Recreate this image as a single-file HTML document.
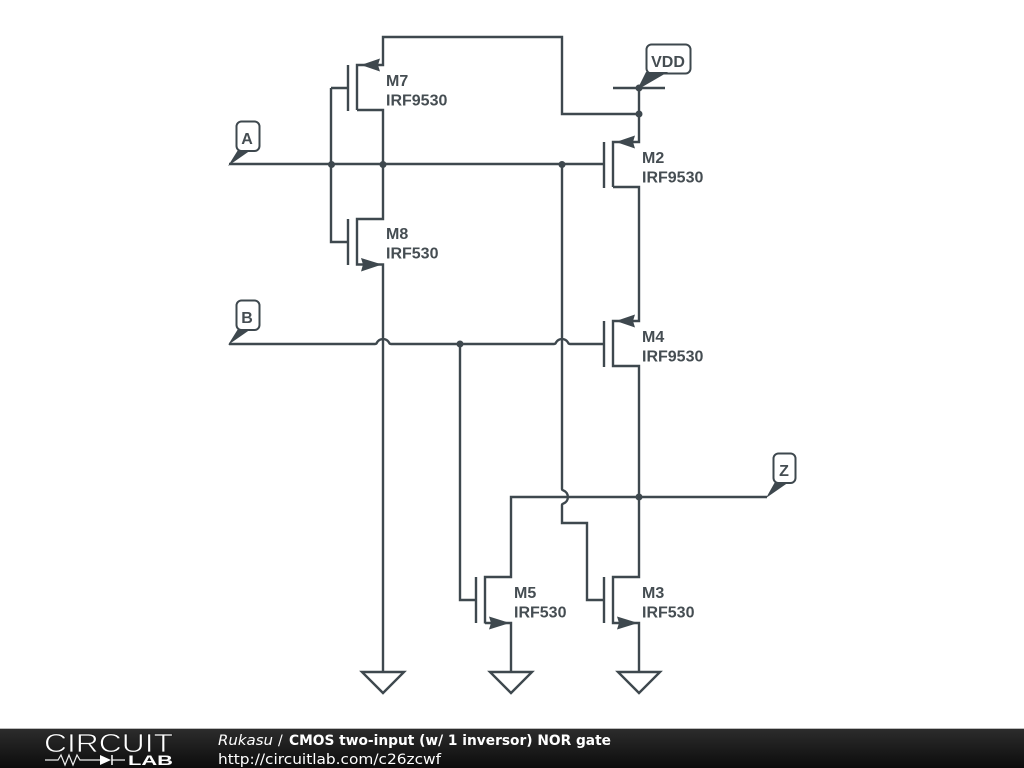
<!DOCTYPE html>
<html><head><meta charset="utf-8"><title>CMOS two-input NOR gate</title>
<style>html,body{margin:0;padding:0;background:#fff}svg{display:block}</style></head>
<body>
<svg xmlns="http://www.w3.org/2000/svg" width="1024" height="768" viewBox="0 0 1024 768">
<defs><linearGradient id="f" x1="0" y1="0" x2="0" y2="1"><stop offset="0" stop-color="#2c2c2c"/><stop offset="1" stop-color="#0c0c0c"/></linearGradient></defs>
<rect width="1024" height="768" fill="#fff"/>
<g fill="none" stroke="#3e484e" stroke-width="2.400">
<!-- M7 -->
<path d="M348 65V111M331 88H348M357 110V65H383V37H562V114H639M357 110H383V219H357V264.500H383V336"/>
<!-- M8 -->
<path d="M348 219V265M331 88V242H348"/>
<!-- A wire -->
<path d="M229 164H604"/>
<!-- B wire -->
<path d="M229 344H375Q376.500 344 377 342.500A7 7 0 0 1 389 342.500Q389.500 344 391 344H554Q555.500 344 556 342.500A7 7 0 0 1 568 342.500Q568.500 344 570 344H604"/>
<path d="M383 336V671"/>
<path d="M562 164V489Q562 490 563.500 490.500A7 7 0 0 1 563.500 503.500Q562 504 562 505V523H587V600H604"/>
<path d="M460 344V600H476M476 577V623M485 623.500V577H511V497H767M485 623H511V671"/>
<!-- M2, M4 -->
<path d="M604 142V188M613 187V142H639V87M613 187H639V321H613V366H639V577H613V623H639V671M604 321V367M604 577V623"/>
<path d="M613 88H665"/>
<!-- grounds -->
<path d="M362 672H404L383 693ZM490 672H532L511 693ZM618 672H660L639 693Z"/>
<!-- labels -->
<rect x="236.500" y="121.500" width="23" height="29.500" rx="5" stroke-width="2"/>
<rect x="236.500" y="300.500" width="23" height="29.500" rx="5" stroke-width="2"/>
<rect x="773.500" y="453.500" width="22" height="29.500" rx="5" stroke-width="2"/>
<rect x="646.500" y="44.500" width="44" height="29" rx="5" stroke-width="2"/>
</g>
<g fill="#3e484e">
<!-- arrowheads -->
<path d="M361 65L380 58.500L378 65L380 71.500ZM616 142L635 135.500L633 142L635 148.500ZM616 321L635 314.500L633 321L635 327.500ZM382 264.500L361 258L363 264.500L361 271.500ZM510 623L489 616.500L491 623L489 629.500ZM638 623L617 616.500L619 623L617 629.500Z"/>
<!-- flag tails -->
<path d="M228 166L238 150H251ZM228 345L238 329H251ZM766 498L775 482H789ZM637 90L646 72H668Z"/>
<!-- junctions -->
<circle cx="331.500" cy="164.500" r="3.500"/><circle cx="383" cy="164.500" r="3.500"/><circle cx="562" cy="164.500" r="3.500"/>
<circle cx="639" cy="88" r="3.500"/><circle cx="639" cy="114" r="3.500"/><circle cx="460" cy="344" r="3.500"/><circle cx="639" cy="497" r="3.500"/>
</g>
<g font-family="'Liberation Sans',sans-serif" font-weight="bold" font-size="16" fill="#454d52">
<text x="386" y="86">M7</text><text x="386" y="105.500">IRF9530</text>
<text x="386" y="239">M8</text><text x="386" y="258.500">IRF530</text>
<text x="642" y="163">M2</text><text x="642" y="182.500">IRF9530</text>
<text x="642" y="342">M4</text><text x="642" y="361.500">IRF9530</text>
<text x="514" y="598">M5</text><text x="514" y="617.500">IRF530</text>
<text x="642" y="598">M3</text><text x="642" y="617.500">IRF530</text>
<text x="247" y="144" text-anchor="middle">A</text>
<text x="247" y="323" text-anchor="middle">B</text>
<text x="784" y="476" text-anchor="middle">Z</text>
<text x="668" y="67" text-anchor="middle">VDD</text>
</g>
<!-- footer -->
<rect y="729" width="1024" height="39" fill="url(#f)"/>
<rect y="728" width="1024" height="1" fill="#bbb"/>
<g font-family="'DejaVu Sans',sans-serif" fill="#fff" font-size="14">
<text x="218" y="745" font-style="italic" textLength="55" lengthAdjust="spacingAndGlyphs">Rukasu</text>
<text x="278" y="745">/</text>
<text x="289" y="745" font-weight="bold" textLength="322" lengthAdjust="spacingAndGlyphs">CMOS two-input (w/ 1 inversor) NOR gate</text>
<text x="218" y="764" textLength="223" lengthAdjust="spacingAndGlyphs">http://circuitlab.com/c26zcwf</text>
</g>
<text x="44" y="752" font-family="'Liberation Sans',sans-serif" font-size="26" fill="#fff" stroke="#1c1c1c" stroke-width=".7" textLength="129" lengthAdjust="spacingAndGlyphs">CIRCUIT</text>
<text x="128" y="765" font-family="'Liberation Sans',sans-serif" font-weight="bold" font-size="14" fill="#fff" textLength="45" lengthAdjust="spacingAndGlyphs">LAB</text>
<path d="M45 760H58L61 755L65 765L69 755L73 765L77 755L80 760H100M112 760H125" fill="none" stroke="#eee" stroke-width="1.200"/>
<path d="M100 755L111 760L100 765Z" fill="#fff"/><path d="M112 755V765" stroke="#fff" stroke-width="1.500"/>
</svg>
</body></html>
